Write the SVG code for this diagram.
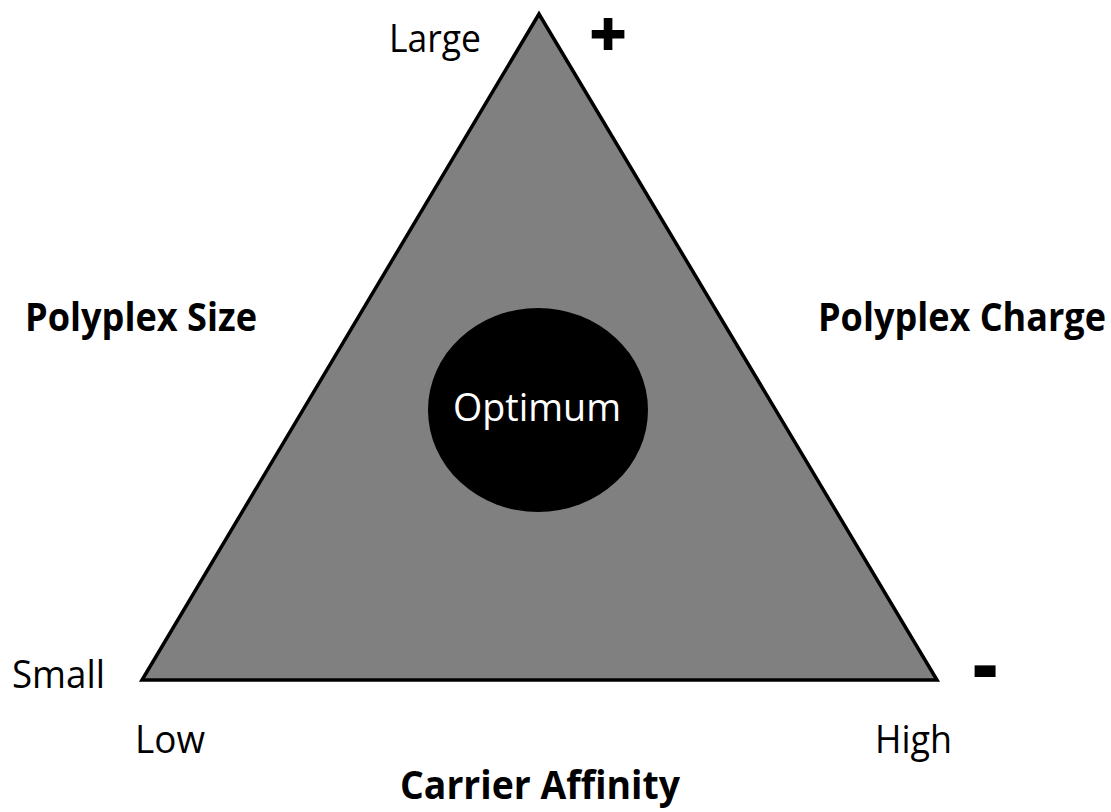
<svg xmlns="http://www.w3.org/2000/svg" width="1111" height="812" viewBox="0 0 1111 812">
  <style>
    .lbl { font-family: "Open Sans", "Liberation Sans", sans-serif; font-size: 39px; fill: #000; }
    .bold { font-weight: bold; }
    .opt { fill: #fff; }
    .sign { font-family: "Open Sans", "Liberation Sans", sans-serif; font-weight: 800; fill: #000; text-anchor: middle; }
  </style>
  <rect width="1111" height="812" fill="#fff"/>
  <g id="triangle">
    <polygon points="539,14 142,680 937,680" fill="#808080" stroke="#000" stroke-width="3.5" stroke-linejoin="miter"/>
  </g>
  <g id="optimum">
    <ellipse cx="538" cy="410" rx="110" ry="102" fill="#000"/>
    <text class="lbl opt" x="453" y="421" textLength="168" lengthAdjust="spacingAndGlyphs">Optimum</text>
  </g>
  <g id="size-axis">
    <text class="lbl" x="389" y="52" textLength="92" lengthAdjust="spacingAndGlyphs">Large</text>
    <text class="lbl" x="12" y="688" textLength="93" lengthAdjust="spacingAndGlyphs">Small</text>
    <text class="lbl bold" x="25" y="331" textLength="232" lengthAdjust="spacingAndGlyphs">Polyplex Size</text>
  </g>
  <g id="charge-axis">
    <text class="sign" x="608" y="57" font-size="66">+</text>
    <text class="sign" x="985" y="692" font-size="76">-</text>
    <text class="lbl bold" x="818" y="331" textLength="288" lengthAdjust="spacingAndGlyphs">Polyplex Charge</text>
  </g>
  <g id="affinity-axis">
    <text class="lbl" x="135" y="753" textLength="70" lengthAdjust="spacingAndGlyphs">Low</text>
    <text class="lbl" x="875" y="753" textLength="77" lengthAdjust="spacingAndGlyphs">High</text>
    <text class="lbl bold" x="400" y="799" textLength="280" lengthAdjust="spacingAndGlyphs">Carrier Affinity</text>
  </g>
</svg>
